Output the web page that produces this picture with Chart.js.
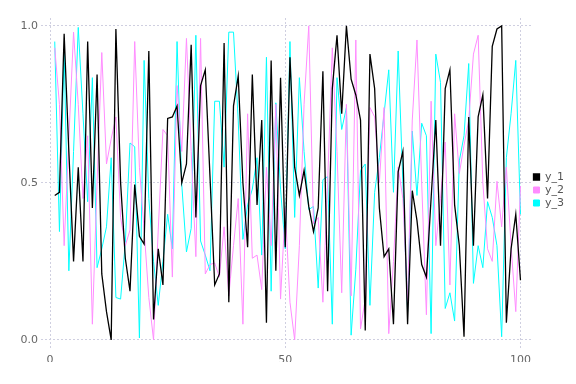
<!DOCTYPE html>
<html>
<head>
<meta charset="utf-8">
<script src="https://cdn.jsdelivr.net/npm/chart.js@4"></script>
<style>
  html, body { margin: 0; padding: 0; background: #fff; }
  #wrap { width: 576px; height: 384px; }
</style>
</head>
<body>
<div id="wrap"><canvas id="c" width="576" height="384"></canvas></div>
<script>
const seriesNames = ["y_1", "y_2", "y_3"];
const xTicks = [0, 50, 100];
const yTicks = [0, 0.5, 1.0];
const xs = Array.from({length: 100}, (_, k) => k + 1);

const y1 = [0.46,0.47,0.975,0.60,0.25,0.55,0.25,0.95,0.42,0.845,
            0.21,0.09,0.00,0.99,0.50,0.26,0.155,0.495,0.33,0.305,
            0.92,0.065,0.29,0.175,0.705,0.71,0.745,0.50,0.56,0.94,
            0.39,0.81,0.86,0.52,0.175,0.21,0.945,0.12,0.745,0.84,
            0.50,0.295,0.845,0.43,0.70,0.055,0.89,0.22,0.835,0.295,
            0.90,0.55,0.46,0.54,0.425,0.345,0.42,0.855,0.155,0.80,
            0.97,0.72,1.00,0.83,0.78,0.70,0.03,0.91,0.80,0.42,
            0.265,0.29,0.05,0.535,0.60,0.05,0.475,0.38,0.24,0.20,
            0.45,0.70,0.30,0.80,0.86,0.43,0.30,0.01,0.71,0.30,
            0.71,0.78,0.45,0.935,0.99,1.00,0.055,0.29,0.40,0.19];

const y2 = [0.93,0.75,0.30,0.64,0.98,0.75,0.45,0.65,0.05,0.50,
            0.915,0.56,0.64,0.71,0.39,0.30,0.35,0.95,0.55,0.35,
            0.135,0.00,0.35,0.67,0.65,0.20,0.81,0.60,0.96,0.60,
            0.265,0.96,0.21,0.24,0.245,0.20,0.36,0.14,0.30,0.45,
            0.05,0.72,0.26,0.27,0.16,0.55,0.30,0.75,0.13,0.42,
            0.12,0.00,0.30,0.75,1.00,0.37,0.39,0.12,0.50,0.93,
            0.60,0.15,0.75,0.14,0.955,0.035,0.13,0.74,0.71,0.50,
            0.74,0.02,0.25,0.55,0.45,0.12,0.70,0.955,0.50,0.08,
            0.76,0.30,0.45,0.63,0.175,0.72,0.53,0.62,0.70,0.91,
            0.97,0.50,0.29,0.25,0.505,0.36,0.55,0.30,0.09,0.49];

const y3 = [0.95,0.345,0.92,0.22,0.60,0.995,0.72,0.44,0.835,0.23,
            0.29,0.36,0.58,0.135,0.13,0.31,0.627,0.615,0.006,0.89,
            0.45,0.25,0.11,0.25,0.40,0.29,0.95,0.495,0.28,0.355,
            0.97,0.315,0.27,0.22,0.76,0.76,0.55,0.98,0.98,0.70,
            0.32,0.43,0.48,0.58,0.27,0.90,0.155,0.755,0.48,0.29,
            0.95,0.39,0.835,0.60,0.415,0.425,0.165,0.51,0.52,0.05,
            0.835,0.67,0.74,0.015,0.225,0.54,0.56,0.11,0.47,0.58,
            0.72,0.86,0.47,0.92,0.50,0.09,0.665,0.46,0.69,0.65,
            0.02,0.91,0.82,0.10,0.15,0.06,0.57,0.65,0.88,0.18,
            0.30,0.23,0.44,0.39,0.30,0.01,0.58,0.72,0.89,0.40];

const colors = ["#000000", "#ff8cff", "#00ffff"];
const widths = [1.3, 1, 1];
const values = [y1, y2, y3];

const datasets = seriesNames.map((name, s) => ({
  label: name,
  data: xs.map((x, k) => ({x: x, y: values[s][k]})),
  borderColor: colors[s],
  backgroundColor: colors[s],
  borderWidth: widths[s],
  pointRadius: 0,
  tension: 0,
  fill: false
}));

const gridStyle = {
  color: "#cfcfe0",
  lineWidth: 1,
  drawTicks: false
};
const borderStyle = { display: false, dash: [2, 2] };

new Chart(document.getElementById("c"), {
  type: "line",
  data: { datasets: datasets },
  options: {
    responsive: false,
    animation: false,
    devicePixelRatio: 1,
    layout: { padding: { top: 18, right: 2, left: 0, bottom: 22 } },
    plugins: {
      tooltip: { enabled: false },
      legend: {
        position: "right",
        align: "center",
        labels: {
          boxWidth: 6,
          boxHeight: 6,
          padding: 2,
          color: "#555555",
          font: { family: "DejaVu Sans", size: 11 }
        }
      }
    },
    scales: {
      x: {
        type: "linear",
        min: -1.92,
        max: 102.34,
        afterBuildTicks: (s) => { s.ticks = xTicks.map(v => ({value: v})); },
        afterFit: (s) => { s.height = 13; },
        grid: gridStyle,
        border: borderStyle,
        ticks: {
          color: "#666666",
          padding: 5,
          maxRotation: 0,
          font: { family: "DejaVu Sans", size: 11 },
          callback: (v) => String(v)
        }
      },
      y: {
        type: "linear",
        min: -0.029,
        max: 1.025,
        afterBuildTicks: (s) => { s.ticks = yTicks.map(v => ({value: v})); },
        afterFit: (s) => { s.width = 41; },
        grid: gridStyle,
        border: borderStyle,
        ticks: {
          color: "#666666",
          padding: 3,
          font: { family: "DejaVu Sans", size: 11 },
          callback: (v) => Number(v).toFixed(1)
        }
      }
    }
  }
});
</script>
</body>
</html>
